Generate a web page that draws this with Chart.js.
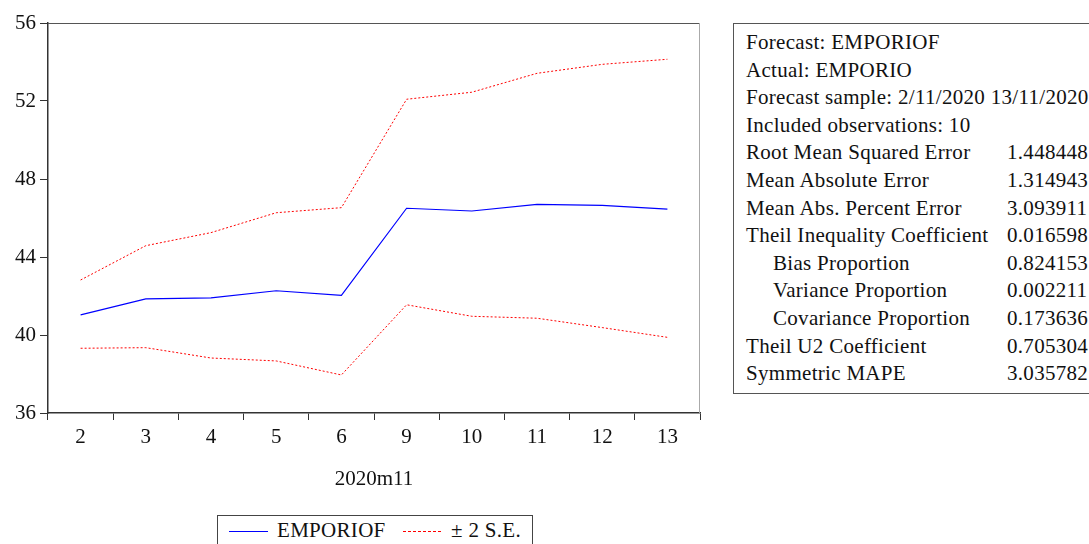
<!DOCTYPE html>
<html>
<head>
<meta charset="utf-8">
<script src="https://cdn.jsdelivr.net/npm/chart.js@4/dist/chart.umd.min.js"></script>
<style>
  body { margin: 0; background: #fff; width: 1089px; height: 544px; overflow: hidden; position: relative; font-family: "Liberation Serif", "DejaVu Serif", serif; }
  #wrap { position: absolute; left: 0; top: 0; width: 712px; height: 500px; }
  #stats { position: absolute; left: 733px; top: 23px; width: 380px; height: 371px; border: 1px solid #555; box-sizing: border-box; font-size: 21px; letter-spacing: 0.3px; color: #111; }
  #stats div { position: absolute; white-space: nowrap; }
  #legend { position: absolute; left: 217px; top: 515px; width: 316px; height: 40px; border: 1px solid #444; box-sizing: border-box; font-size: 21px; letter-spacing: 0.3px; color: #111; }
  #legend span { position: absolute; top: 2px; white-space: nowrap; }
  .ln { position: absolute; top: 15px; height: 0; }
</style>
</head>
<body>
<div id="wrap"><canvas id="myChart"></canvas></div>
<div id="stats"></div>
<div id="legend">
  <div class="ln" style="left:11px;width:39px;border-top:1px solid #0000ff"></div>
  <span style="left:59px">EMPORIOF</span>
  <div class="ln" style="left:185px;width:38px;border-top:1px dashed #ff0000"></div>
  <span style="left:233px">± 2 S.E.</span>
</div>
<script>
// data
const days = ["2", "3", "4", "5", "6", "9", "10", "11", "12", "13"];
const forecast = [41.03, 41.85, 41.9, 42.27, 42.03, 46.5, 46.36, 46.7, 46.65, 46.46];
const upperSE = [42.82, 44.58, 45.25, 46.27, 46.53, 52.09, 52.45, 53.42, 53.88, 54.14];
const lowerSE = [39.32, 39.35, 38.82, 38.67, 37.95, 41.55, 40.96, 40.86, 40.38, 39.88];

const statLabels = ["Forecast: EMPORIOF", "Actual: EMPORIO", "Forecast sample: 2/11/2020 13/11/2020",
  "Included observations: 10", "Root Mean Squared Error", "Mean Absolute Error",
  "Mean Abs. Percent Error", "Theil Inequality Coefficient", "Bias Proportion",
  "Variance Proportion", "Covariance Proportion", "Theil U2 Coefficient", "Symmetric MAPE"];
const statValues = ["", "", "", "", "1.448448", "1.314943", "3.093911", "0.016598",
  "0.824153", "0.002211", "0.173636", "0.705304", "3.035782"];
const indented = [8, 9, 10];

const box = document.getElementById("stats");
for (let i = 0; i < statLabels.length; i++) {
  const d = document.createElement("div");
  d.textContent = statLabels[i];
  d.style.left = (indented.includes(i) ? 39 : 12) + "px";
  d.style.top = (6 + i * 27.6) + "px";
  box.appendChild(d);
  if (statValues[i]) {
    const v = document.createElement("div");
    v.textContent = statValues[i];
    v.style.left = "273px";
    v.style.top = (6 + i * 27.6) + "px";
    box.appendChild(v);
  }
}

const frame = {
  id: "frame",
  afterDraw(chart) {
    const a = chart.chartArea, c = chart.ctx;
    c.save();
    c.lineWidth = 1;
    c.strokeStyle = "#555";
    c.beginPath(); c.moveTo(a.left, a.top + 0.5); c.lineTo(a.right, a.top + 0.5); c.stroke();
    c.strokeStyle = "#aaa";
    c.beginPath(); c.moveTo(a.right - 0.5, a.top); c.lineTo(a.right - 0.5, a.bottom); c.stroke();
    c.restore();
  }
};

const serif = "'Liberation Serif', 'DejaVu Serif', serif";

new Chart(document.getElementById("myChart"), {
  type: "line",
  data: {
    labels: days,
    datasets: [
      { label: "EMPORIOF", data: forecast, borderColor: "#0000ff", borderWidth: 1.2, pointRadius: 0, tension: 0 },
      { label: "+2 S.E.", data: upperSE, borderColor: "#ff0000", borderWidth: 1, borderDash: [2, 2], pointRadius: 0, tension: 0 },
      { label: "-2 S.E.", data: lowerSE, borderColor: "#ff0000", borderWidth: 1, borderDash: [2, 2], pointRadius: 0, tension: 0 }
    ]
  },
  options: {
    responsive: true,
    maintainAspectRatio: false,
    animation: false,
    layout: { padding: { top: 23, right: 12, left: 0, bottom: 0 } },
    plugins: { legend: { display: false }, tooltip: { enabled: false } },
    scales: {
      x: {
        offset: true,
        grid: { offset: true, drawOnChartArea: false, drawTicks: true, tickLength: 7, color: "#333" },
        border: { display: true, color: "#333", width: 1.5 },
        ticks: { color: "#111", font: { family: serif, size: 21 }, padding: 5, maxRotation: 0 },
        title: { display: true, text: "2020m11", color: "#111", font: { family: serif, size: 21 }, padding: { top: 2, bottom: 8 } },
        afterFit(s) { s.height = 87; }
      },
      y: {
        min: 36, max: 56,
        grid: { drawOnChartArea: false, drawTicks: true, tickLength: 8, color: "#333" },
        border: { display: true, color: "#333", width: 1.5 },
        ticks: { stepSize: 4, color: "#111", font: { family: serif, size: 21 }, padding: 4 },
        afterFit(s) { s.width = 48; }
      }
    }
  },
  plugins: [frame]
});
</script>
</body>
</html>
